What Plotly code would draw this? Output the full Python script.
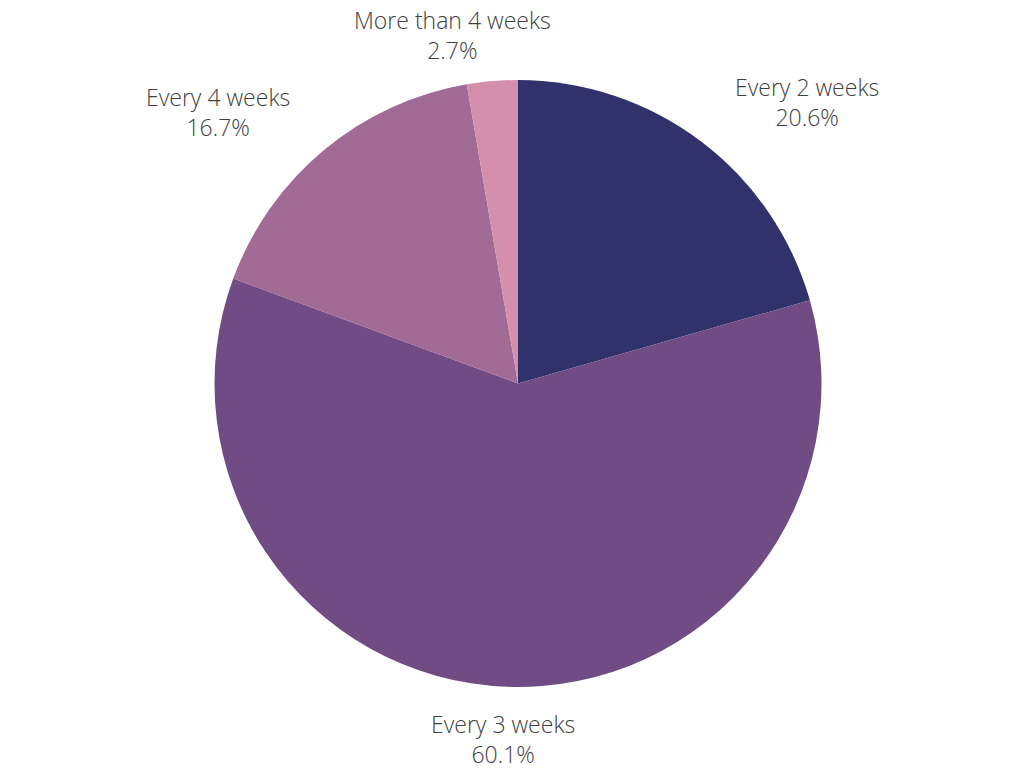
import plotly.graph_objects as go

labels = ["Every 2 weeks", "Every 3 weeks", "Every 4 weeks", "More than 4 weeks"]
values = [20.6, 60.1, 16.7, 2.7]
colors = ["#30336b", "#714b84", "#a26b96", "#d38fab"]

# label centres in figure pixels (page has an 8px body margin)
label_x = [799, 495, 210, 444]
label_y = [94, 731, 104, 27]

W, H = 1024, 768

fig = go.Figure()
fig.add_trace(go.Pie(labels=labels, values=values,
                     sort=False, direction="clockwise", rotation=0,
                     marker=dict(colors=colors, line=dict(width=0)),
                     textinfo="none",
                     hovertemplate="%{label}: %{value}%<extra></extra>",
                     showlegend=False,
                     domain=dict(x=[206 / W, 814 / W], y=[89 / H, 696 / H])))

for lab, v, x, y in zip(labels, values, label_x, label_y):
    fig.add_annotation(text="%s<br>%.1f%%" % (lab, v),
                       x=x / W, y=1 - y / H, xref="paper", yref="paper",
                       xanchor="center", yanchor="middle", showarrow=False,
                       font=dict(family="Open Sans", size=23, color="#404040",
                                 weight=300))

fig.update_layout(width=W, height=H,
                  margin=dict(l=0, r=0, t=0, b=0),
                  paper_bgcolor="white",
                  font=dict(family="Open Sans"))

fig.write_html("out.html")
